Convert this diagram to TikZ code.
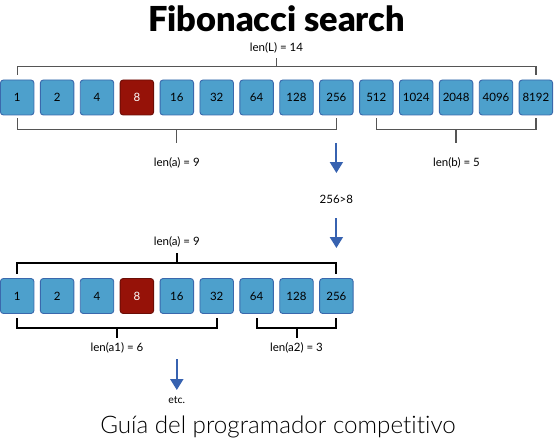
\documentclass[tikz,border=0pt]{standalone}
\usepackage{fontspec}
\setmainfont{Lato}
\newfontfamily\titlefont{Lato Black}
\newfontfamily\footfont{Lato Light}[Ligatures=CommonOff]
\usetikzlibrary{arrows.meta,calc}
\definecolor{cellblue}{HTML}{4DA0CC}
\definecolor{cellborder}{HTML}{3A68AC}
\definecolor{cellred}{HTML}{961208}
\definecolor{redborder}{HTML}{6A0D06}
\definecolor{arrowblue}{HTML}{3762B0}
\definecolor{brkgray}{HTML}{555555}
\tikzset{
  cell/.style={draw=cellborder, fill=cellblue, line width=0.9pt, rounded corners=3pt,
    minimum width=33.5pt, minimum height=35pt, inner sep=0pt, text=black,
    font=\fontsize{11.5}{13}\selectfont},
  redcell/.style={cell, draw=redborder, fill=cellred, text=white},
  lbl/.style={inner sep=0pt, font=\fontsize{11.5}{13}\selectfont},
  brkA/.style={draw=brkgray, line width=1.3pt},
  brkB/.style={draw=black, line width=2pt},
  arr/.style={draw=arrowblue, line width=2pt, -{Triangle[width=13pt,length=11pt]}}
}
\begin{document}
\begin{tikzpicture}[x=1pt,y=-1pt]
\useasboundingbox (0,0) rectangle (554,441);

% title and footer
\node[inner sep=0pt, font=\titlefont\fontsize{34.4}{40}\selectfont] (title) at (276.5,18.5) {Fibonacci search};
\node[inner sep=0pt, font=\footfont\fontsize{24.2}{29}\selectfont] (foot) at (278,427) {Guía del programador competitivo};

% top row
\foreach \v/\s [count=\i from 0] in {1/cell,2/cell,4/cell,8/redcell,16/cell,32/cell,64/cell,128/cell,256/cell,512/cell,1024/cell,2048/cell,4096/cell,8192/cell}
  \node[\s] (t\i) at (17.2+39.9*\i,97.5) {\v};

% second row
\foreach \v/\s [count=\i from 0] in {1/cell,2/cell,4/cell,8/redcell,16/cell,32/cell,64/cell,128/cell,256/cell}
  \node[\s] (s\i) at (17.2+39.9*\i,296) {\v};

% len(L) bracket
\node[lbl] (lenL) at (276.5,48) {len(L) = 14};
\draw[brkA] ([yshift=5pt]t0.north) -- ++(0,-8.3) -| ([yshift=5pt]t13.north);
\draw[brkA] ($(t0.north)!0.5!(t13.north)$) ++(0,-13.3) -- ++(0,-8.7);

% len(a) bracket (top part)
\node[lbl] (lena) at (176.8,163) {len(a) = 9};
\draw[brkA] ([yshift=-3pt]t0.south) -- ++(0,11) -| ([yshift=-3pt]t8.south);
\draw[brkA] ($(t0.south)!0.5!(t8.south)$) ++(0,14) -- ++(0,14);

% len(b) bracket
\node[lbl] (lenb) at (456.5,163) {len(b) = 5};
\draw[brkA] ([yshift=-3pt]t9.south) -- ++(0,11) -| ([yshift=-3pt]t13.south);
\draw[brkA] ($(t9.south)!0.5!(t13.south)$) ++(0,14) -- ++(0,14);

% comparison arrows
\node[lbl] (cmp) at (336.4,199) {256>8};
\coordinate (a1s) at (336.4,143);
\coordinate (a1e) at (336.4,173);
\coordinate (a2s) at (336.4,218);
\coordinate (a2e) at (336.4,248);
\draw[arr] (a1s) -- (a1e);
\draw[arr] (a2s) -- (a2e);

% len(a) bracket (second part)
\node[lbl] (lena2) at (176.8,242) {len(a) = 9};
\draw[brkB] ([yshift=4.5pt]s0.north) -- ++(0,-11) -| ([yshift=4.5pt]s8.north);
\draw[brkB] ($(s0.north)!0.5!(s8.north)$) ++(0,-15.5) -- ++(0,-10);

% len(a1) bracket
\node[lbl] (lena1) at (117,348) {len(a1) = 6};
\draw[brkB] ([yshift=-4.5pt]s0.south) -- ++(0,10) -| ([yshift=-4.5pt]s5.south);
\draw[brkB] ($(s0.south)!0.5!(s5.south)$) ++(0,14.5) -- ++(0,10);

% len(a2) bracket
\node[lbl] (lenaa2) at (296.5,348) {len(a2) = 3};
\draw[brkB] ([yshift=-4.5pt]s6.south) -- ++(0,10) -| ([yshift=-4.5pt]s8.south);
\draw[brkB] ($(s6.south)!0.5!(s8.south)$) ++(0,14.5) -- ++(0,10);

% etc arrow
\node[lbl, font=\fontsize{10.5}{12}\selectfont] (etc) at (176.8,400) {etc.};
\coordinate (a3s) at (176.8,359);
\coordinate (a3e) at (176.8,390);
\draw[arr] (a3s) -- (a3e);
\end{tikzpicture}
\end{document}
